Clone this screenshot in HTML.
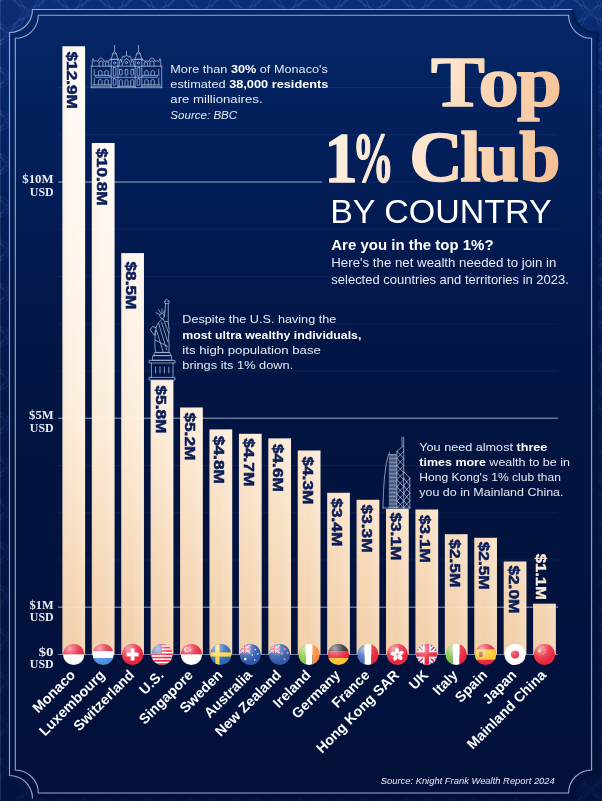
<!DOCTYPE html>
<html lang="en"><head><meta charset="utf-8"><title>Top 1% Club by Country</title>
<style>
html,body{margin:0;padding:0;background:#031648;}
body{width:602px;height:801px;overflow:hidden;}
svg{display:block;}
text{font-family:"Liberation Sans",sans-serif;fill:#fff;}
.ax{font-family:"Liberation Serif",serif;font-weight:bold;font-size:11.9px;fill:#e9ecf5;}
.vl{font-weight:bold;font-size:15.4px;}
.vd{fill:#0a1d58;stroke:#0a1d58;stroke-width:0.55px;}
.vw{fill:#fdebd8;stroke:#fdebd8;stroke-width:0.4px;}
.cl{font-weight:bold;font-size:14.2px;fill:#fff;}
.tt{font-family:"Liberation Serif",serif;font-weight:bold;font-size:72px;fill:url(#title);stroke:url(#title);stroke-width:1.6px;stroke-linejoin:round;}
.t2{fill:url(#title2);stroke:url(#title2);}
.t3{fill:url(#title3);stroke:url(#title3);}
.by{font-size:33.5px;fill:#fff;}
.sb{font-weight:bold;font-size:14px;}
.bd{font-size:12px;fill:#e6eaf5;}
.nt{font-size:11.4px;fill:#e6eaf5;}
.b{font-weight:bold;fill:#fff;}
.it{font-style:italic;}
.src{font-style:italic;font-size:9.8px;fill:#e6eaf5;}
</style></head><body>
<svg width="602" height="801" viewBox="0 0 602 801">
<defs>
<linearGradient id="bg" x1="0" y1="0" x2="0" y2="1">
<stop offset="0" stop-color="#052667"/><stop offset="0.05" stop-color="#042463"/><stop offset="0.115" stop-color="#03215e"/><stop offset="0.24" stop-color="#021c55"/><stop offset="0.39" stop-color="#021748"/><stop offset="0.56" stop-color="#021440"/><stop offset="0.89" stop-color="#02113c"/><stop offset="1" stop-color="#021039"/>
</linearGradient>
<linearGradient id="band" x1="0" y1="0" x2="0" y2="1">
<stop offset="0" stop-color="#0c2e76"/><stop offset="0.09" stop-color="#05266c"/><stop offset="0.25" stop-color="#041e5a"/><stop offset="0.51" stop-color="#031648"/><stop offset="1" stop-color="#04123f"/>
</linearGradient>
<linearGradient id="bar" gradientUnits="userSpaceOnUse" x1="0" y1="46" x2="0" y2="655">
<stop offset="0" stop-color="#fffbf5"/><stop offset="0.3" stop-color="#fef7ee"/><stop offset="0.5" stop-color="#fdf1e3"/><stop offset="0.63" stop-color="#fcebd7"/><stop offset="0.78" stop-color="#f8dfc3"/><stop offset="0.9" stop-color="#f4d5b3"/><stop offset="1" stop-color="#f1cea7"/>
</linearGradient>
<linearGradient id="barh" x1="0" y1="0" x2="1" y2="0">
<stop offset="0" stop-color="#f3c79c" stop-opacity="0.14"/><stop offset="0.45" stop-color="#fff" stop-opacity="0"/><stop offset="1" stop-color="#fff" stop-opacity="0.22"/>
</linearGradient>
<linearGradient id="title" gradientUnits="userSpaceOnUse" x1="330" y1="90" x2="560" y2="130"><stop offset="0" stop-color="#fdeede"/><stop offset="0.45" stop-color="#fce5cf"/><stop offset="0.65" stop-color="#fad7b4"/><stop offset="0.82" stop-color="#f9cfa9"/><stop offset="1" stop-color="#f5c096"/></linearGradient>
<linearGradient id="title2" gradientUnits="userSpaceOnUse" x1="294.6" y1="90" x2="500.0" y2="130"><stop offset="0" stop-color="#fdeede"/><stop offset="0.45" stop-color="#fce5cf"/><stop offset="0.65" stop-color="#fad7b4"/><stop offset="0.82" stop-color="#f9cfa9"/><stop offset="1" stop-color="#f5c096"/></linearGradient>
<linearGradient id="title3" gradientUnits="userSpaceOnUse" x1="320.4" y1="90" x2="543.7" y2="130"><stop offset="0" stop-color="#fdeede"/><stop offset="0.45" stop-color="#fce5cf"/><stop offset="0.65" stop-color="#fad7b4"/><stop offset="0.82" stop-color="#f9cfa9"/><stop offset="1" stop-color="#f5c096"/></linearGradient>
<radialGradient id="gloss" cx="0.32" cy="0.22" r="0.85">
<stop offset="0" stop-color="#fff" stop-opacity="0.6"/><stop offset="0.45" stop-color="#fff" stop-opacity="0.16"/><stop offset="0.8" stop-color="#fff" stop-opacity="0"/><stop offset="1" stop-color="#000" stop-opacity="0.12"/>
</radialGradient>
<pattern id="pat" width="36" height="36" patternUnits="userSpaceOnUse" patternTransform="translate(-14,-9) scale(1.2)">
<g fill="none" stroke="#86a4f0" stroke-opacity="0.3" stroke-width="0.6">
<path d="M18 1 C21 6 26 5 28.5 7.5 C31 10 30 15 35 18 C30 21 31 26 28.5 28.5 C26 31 21 30 18 35 C15 30 10 31 7.5 28.5 C5 26 6 21 1 18 C6 15 5 10 7.5 7.5 C10 5 15 6 18 1 Z"/>
<path d="M18 1 C21 6 26 5 28.5 7.5 C31 10 30 15 35 18 C30 21 31 26 28.5 28.5 C26 31 21 30 18 35 C15 30 10 31 7.5 28.5 C5 26 6 21 1 18 C6 15 5 10 7.5 7.5 C10 5 15 6 18 1 Z" transform="translate(18,18) scale(0.8) translate(-18,-18)"/>
<path d="M18 1 C21 6 26 5 28.5 7.5 C31 10 30 15 35 18 C30 21 31 26 28.5 28.5 C26 31 21 30 18 35 C15 30 10 31 7.5 28.5 C5 26 6 21 1 18 C6 15 5 10 7.5 7.5 C10 5 15 6 18 1 Z" transform="translate(-18,-18)"/><path d="M18 1 C21 6 26 5 28.5 7.5 C31 10 30 15 35 18 C30 21 31 26 28.5 28.5 C26 31 21 30 18 35 C15 30 10 31 7.5 28.5 C5 26 6 21 1 18 C6 15 5 10 7.5 7.5 C10 5 15 6 18 1 Z" transform="translate(18,-18)"/><path d="M18 1 C21 6 26 5 28.5 7.5 C31 10 30 15 35 18 C30 21 31 26 28.5 28.5 C26 31 21 30 18 35 C15 30 10 31 7.5 28.5 C5 26 6 21 1 18 C6 15 5 10 7.5 7.5 C10 5 15 6 18 1 Z" transform="translate(-18,18)"/><path d="M18 1 C21 6 26 5 28.5 7.5 C31 10 30 15 35 18 C30 21 31 26 28.5 28.5 C26 31 21 30 18 35 C15 30 10 31 7.5 28.5 C5 26 6 21 1 18 C6 15 5 10 7.5 7.5 C10 5 15 6 18 1 Z" transform="translate(18,18)"/>
</g>
</pattern>
<linearGradient id="pfade" x1="0" y1="0" x2="0" y2="1"><stop offset="0" stop-color="#fff"/><stop offset="0.5" stop-color="#999"/><stop offset="1" stop-color="#555"/></linearGradient>
<mask id="pmask"><rect width="602" height="801" fill="url(#pfade)"/></mask>
<clipPath id="cflag"><circle cx="0" cy="0" r="10.6"/></clipPath>
</defs>
<rect width="602" height="801" fill="url(#band)"/>
<rect width="602" height="801" fill="url(#pat)" mask="url(#pmask)"/>
<rect x="0" y="0" width="1" height="801" fill="#fff" fill-opacity="0.1"/>
<path d="M32.5 9.5 H574.5 A23 23 0 0 0 597.5 32.5 V775.5 A23 23 0 0 0 574.5 798.5 H32.5 A23 23 0 0 0 9.5 775.5 V32.5 A23 23 0 0 0 32.5 9.5 Z" fill="url(#bg)"/>
<path d="M572.5 9.5 H32.5 A23 23 0 0 1 9.5 32.5 V775.5 A23 23 0 0 1 32.5 798.5" fill="none" stroke="#98a6cb" stroke-width="1.1"/>
<path d="M572.5 9.5 A23 23 0 0 0 597.5 32.5 V775.5" fill="none" stroke="#06102e" stroke-opacity="0.55" stroke-width="2.2"/>
<path d="M38.3 15.3 H568.6 A23 23 0 0 0 591.6 38.3 V770 A23 23 0 0 0 568.6 793 H38.3 A23 23 0 0 0 15.3 770 V38.3 A23 23 0 0 0 38.3 15.3 Z" fill="none" stroke="#9caacf" stroke-width="1.1"/>
<line x1="58" x2="558" y1="560.0" y2="560.0" stroke="#8fa3d6" stroke-opacity="0.1" stroke-width="0.9"/>
<line x1="58" x2="558" y1="512.8" y2="512.8" stroke="#8fa3d6" stroke-opacity="0.1" stroke-width="0.9"/>
<line x1="58" x2="558" y1="465.5" y2="465.5" stroke="#8fa3d6" stroke-opacity="0.1" stroke-width="0.9"/>
<line x1="58" x2="558" y1="371.0" y2="371.0" stroke="#8fa3d6" stroke-opacity="0.1" stroke-width="0.9"/>
<line x1="58" x2="558" y1="323.8" y2="323.8" stroke="#8fa3d6" stroke-opacity="0.1" stroke-width="0.9"/>
<line x1="58" x2="558" y1="276.5" y2="276.5" stroke="#8fa3d6" stroke-opacity="0.1" stroke-width="0.9"/>
<line x1="58" x2="558" y1="229.2" y2="229.2" stroke="#8fa3d6" stroke-opacity="0.1" stroke-width="0.9"/>
<line x1="58" x2="558" y1="134.8" y2="134.8" stroke="#8fa3d6" stroke-opacity="0.1" stroke-width="0.9"/>
<line x1="58" x2="558" y1="87.5" y2="87.5" stroke="#8fa3d6" stroke-opacity="0.1" stroke-width="0.9"/>
<line x1="58" x2="558" y1="654.5" y2="654.5" stroke="#b0c4ea" stroke-opacity="0.58" stroke-width="1"/>
<line x1="58" x2="558" y1="607.2" y2="607.2" stroke="#b0c4ea" stroke-opacity="0.58" stroke-width="1"/>
<line x1="58" x2="558" y1="418.2" y2="418.2" stroke="#b0c4ea" stroke-opacity="0.58" stroke-width="1"/>
<line x1="322" x2="558" y1="182.0" y2="182.0" stroke="#8fa3d6" stroke-opacity="0.1" stroke-width="0.9"/>
<line x1="58" x2="322" y1="182.0" y2="182.0" stroke="#b0c4ea" stroke-opacity="0.58" stroke-width="1"/>
<rect x="62.40" y="46.3" width="22.7" height="608.2" fill="url(#bar)"/>
<rect x="62.40" y="46.3" width="22.7" height="608.2" fill="url(#barh)"/>
<rect x="91.82" y="143.0" width="22.7" height="511.5" fill="url(#bar)"/>
<rect x="91.82" y="143.0" width="22.7" height="511.5" fill="url(#barh)"/>
<rect x="121.24" y="253.1" width="22.7" height="401.4" fill="url(#bar)"/>
<rect x="121.24" y="253.1" width="22.7" height="401.4" fill="url(#barh)"/>
<rect x="150.66" y="380.0" width="22.7" height="274.5" fill="url(#bar)"/>
<rect x="150.66" y="380.0" width="22.7" height="274.5" fill="url(#barh)"/>
<rect x="180.08" y="407.5" width="22.7" height="247.0" fill="url(#bar)"/>
<rect x="180.08" y="407.5" width="22.7" height="247.0" fill="url(#barh)"/>
<rect x="209.50" y="429.4" width="22.7" height="225.1" fill="url(#bar)"/>
<rect x="209.50" y="429.4" width="22.7" height="225.1" fill="url(#barh)"/>
<rect x="238.92" y="433.8" width="22.7" height="220.7" fill="url(#bar)"/>
<rect x="238.92" y="433.8" width="22.7" height="220.7" fill="url(#barh)"/>
<rect x="268.34" y="438.4" width="22.7" height="216.1" fill="url(#bar)"/>
<rect x="268.34" y="438.4" width="22.7" height="216.1" fill="url(#barh)"/>
<rect x="297.76" y="450.5" width="22.7" height="204.0" fill="url(#bar)"/>
<rect x="297.76" y="450.5" width="22.7" height="204.0" fill="url(#barh)"/>
<rect x="327.18" y="492.8" width="22.7" height="161.7" fill="url(#bar)"/>
<rect x="327.18" y="492.8" width="22.7" height="161.7" fill="url(#barh)"/>
<rect x="356.60" y="499.8" width="22.7" height="154.7" fill="url(#bar)"/>
<rect x="356.60" y="499.8" width="22.7" height="154.7" fill="url(#barh)"/>
<rect x="386.02" y="508.9" width="22.7" height="145.6" fill="url(#bar)"/>
<rect x="386.02" y="508.9" width="22.7" height="145.6" fill="url(#barh)"/>
<rect x="415.44" y="509.5" width="22.7" height="145.0" fill="url(#bar)"/>
<rect x="415.44" y="509.5" width="22.7" height="145.0" fill="url(#barh)"/>
<rect x="444.86" y="534.2" width="22.7" height="120.3" fill="url(#bar)"/>
<rect x="444.86" y="534.2" width="22.7" height="120.3" fill="url(#barh)"/>
<rect x="474.28" y="537.8" width="22.7" height="116.7" fill="url(#bar)"/>
<rect x="474.28" y="537.8" width="22.7" height="116.7" fill="url(#barh)"/>
<rect x="503.70" y="561.5" width="22.7" height="93.0" fill="url(#bar)"/>
<rect x="503.70" y="561.5" width="22.7" height="93.0" fill="url(#barh)"/>
<rect x="533.12" y="603.7" width="22.7" height="50.8" fill="url(#bar)"/>
<rect x="533.12" y="603.7" width="22.7" height="50.8" fill="url(#barh)"/>
<line x1="58" x2="558" y1="607.2" y2="607.2" stroke="#ffffff" stroke-opacity="0.3" stroke-width="0.9"/>
<line x1="58" x2="558" y1="418.2" y2="418.2" stroke="#ffffff" stroke-opacity="0.3" stroke-width="0.9"/>
<line x1="58" x2="322" y1="182.0" y2="182.0" stroke="#ffffff" stroke-opacity="0.3" stroke-width="0.9"/>
<text x="53.6" y="183.2" text-anchor="end" class="ax" textLength="31.3" lengthAdjust="spacingAndGlyphs">$10M</text>
<text x="53.6" y="195.5" text-anchor="end" class="ax" textLength="23.8" lengthAdjust="spacingAndGlyphs">USD</text>
<text x="53.6" y="419.4" text-anchor="end" class="ax" textLength="24.5" lengthAdjust="spacingAndGlyphs">$5M</text>
<text x="53.6" y="431.8" text-anchor="end" class="ax" textLength="23.8" lengthAdjust="spacingAndGlyphs">USD</text>
<text x="53.6" y="608.5" text-anchor="end" class="ax" textLength="24" lengthAdjust="spacingAndGlyphs">$1M</text>
<text x="53.6" y="620.8" text-anchor="end" class="ax" textLength="23.8" lengthAdjust="spacingAndGlyphs">USD</text>
<text x="53.6" y="655.7" text-anchor="end" class="ax" textLength="15" lengthAdjust="spacingAndGlyphs">$0</text>
<text x="53.6" y="668.0" text-anchor="end" class="ax" textLength="23.8" lengthAdjust="spacingAndGlyphs">USD</text>
<text transform="translate(67.3,51.5) rotate(90)" class="vl vd" textLength="57.4" lengthAdjust="spacingAndGlyphs">$12.9M</text>
<text transform="translate(96.7,148.3) rotate(90)" class="vl vd" textLength="57.4" lengthAdjust="spacingAndGlyphs">$10.8M</text>
<text transform="translate(126.1,261.5) rotate(90)" class="vl vd" textLength="48.0" lengthAdjust="spacingAndGlyphs">$8.5M</text>
<text transform="translate(155.6,385.5) rotate(90)" class="vl vd" textLength="48.0" lengthAdjust="spacingAndGlyphs">$5.8M</text>
<text transform="translate(185.0,412.4) rotate(90)" class="vl vd" textLength="48.0" lengthAdjust="spacingAndGlyphs">$5.2M</text>
<text transform="translate(214.4,435.9) rotate(90)" class="vl vd" textLength="48.0" lengthAdjust="spacingAndGlyphs">$4.8M</text>
<text transform="translate(243.8,438.3) rotate(90)" class="vl vd" textLength="48.0" lengthAdjust="spacingAndGlyphs">$4.7M</text>
<text transform="translate(273.2,443.9) rotate(90)" class="vl vd" textLength="48.0" lengthAdjust="spacingAndGlyphs">$4.6M</text>
<text transform="translate(302.7,456.4) rotate(90)" class="vl vd" textLength="48.0" lengthAdjust="spacingAndGlyphs">$4.3M</text>
<text transform="translate(332.1,498.3) rotate(90)" class="vl vd" textLength="48.0" lengthAdjust="spacingAndGlyphs">$3.4M</text>
<text transform="translate(361.5,504.6) rotate(90)" class="vl vd" textLength="48.0" lengthAdjust="spacingAndGlyphs">$3.3M</text>
<text transform="translate(390.9,512.4) rotate(90)" class="vl vd" textLength="48.0" lengthAdjust="spacingAndGlyphs">$3.1M</text>
<text transform="translate(420.3,515.0) rotate(90)" class="vl vd" textLength="48.0" lengthAdjust="spacingAndGlyphs">$3.1M</text>
<text transform="translate(449.8,539.3) rotate(90)" class="vl vd" textLength="48.0" lengthAdjust="spacingAndGlyphs">$2.5M</text>
<text transform="translate(479.2,541.7) rotate(90)" class="vl vd" textLength="48.0" lengthAdjust="spacingAndGlyphs">$2.5M</text>
<text transform="translate(508.6,565.4) rotate(90)" class="vl vd" textLength="48.0" lengthAdjust="spacingAndGlyphs">$2.0M</text>
<text transform="translate(536.3,553.7) rotate(90)" class="vl vw" textLength="46.2" lengthAdjust="spacingAndGlyphs">$1.1M</text>
<g transform="translate(73.75,654.5)"><g clip-path="url(#cflag)"><rect x="-11" y="-11" width="22" height="11" fill="#e8243c"/><rect x="-11" y="0" width="22" height="11" fill="#fff"/></g><circle r="10.6" fill="url(#gloss)"/></g>
<g transform="translate(103.17,654.5)"><g clip-path="url(#cflag)"><rect x="-11" y="-11" width="22" height="7.6" fill="#e8243c"/><rect x="-11" y="-3.4" width="22" height="7" fill="#fff"/><rect x="-11" y="3.4" width="22" height="8" fill="#4a8fe0"/></g><circle r="10.6" fill="url(#gloss)"/></g>
<g transform="translate(132.59,654.5)"><g clip-path="url(#cflag)"><rect x="-11" y="-11" width="22" height="22" fill="#e8243c"/><rect x="-1.9" y="-6" width="3.8" height="12" fill="#fff"/><rect x="-6" y="-1.9" width="12" height="3.8" fill="#fff"/></g><circle r="10.6" fill="url(#gloss)"/></g>
<g transform="translate(162.01,654.5)"><g clip-path="url(#cflag)"><rect x="-11" y="-11" width="22" height="22" fill="#fff"/><rect x="-11" y="-11.00" width="22" height="1.7" fill="#e8243c"/><rect x="-11" y="-7.70" width="22" height="1.7" fill="#e8243c"/><rect x="-11" y="-4.40" width="22" height="1.7" fill="#e8243c"/><rect x="-11" y="-1.10" width="22" height="1.7" fill="#e8243c"/><rect x="-11" y="2.20" width="22" height="1.7" fill="#e8243c"/><rect x="-11" y="5.50" width="22" height="1.7" fill="#e8243c"/><rect x="-11" y="8.80" width="22" height="1.7" fill="#e8243c"/><rect x="-11" y="-11" width="11" height="10" fill="#5878bc"/></g><circle r="10.6" fill="url(#gloss)"/></g>
<g transform="translate(191.43,654.5)"><g clip-path="url(#cflag)"><rect x="-11" y="-11" width="22" height="11" fill="#e8243c"/><rect x="-11" y="0" width="22" height="11" fill="#fff"/><circle cx="-4.5" cy="-5" r="2.6" fill="#fff"/><circle cx="-3.4" cy="-5" r="2.3" fill="#e8243c"/><g fill="#fff"><circle cx="-1.5" cy="-6.6" r=".5"/><circle cx="-0.2" cy="-5.2" r=".5"/><circle cx="-2.6" cy="-5.2" r=".5"/><circle cx="-0.8" cy="-3.7" r=".5"/><circle cx="-2.2" cy="-3.7" r=".5"/></g></g><circle r="10.6" fill="url(#gloss)"/></g>
<g transform="translate(220.85,654.5)"><g clip-path="url(#cflag)"><rect x="-11" y="-11" width="22" height="22" fill="#2c66b4"/><rect x="-5.5" y="-11" width="4.2" height="22" fill="#ffd23f"/><rect x="-11" y="-2.1" width="22" height="4.2" fill="#ffd23f"/></g><circle r="10.6" fill="url(#gloss)"/></g>
<g transform="translate(250.27,654.5)"><g clip-path="url(#cflag)"><rect x="-11" y="-11" width="22" height="22" fill="#2b55a8"/><g transform="translate(-11,-9.5)"><rect width="11" height="8" fill="#2b4a9b"/><path d="M0 0 L11 8 M11 0 L0 8" stroke="#fff" stroke-width="1.76"/><path d="M0 0 L11 8 M11 0 L0 8" stroke="#e8243c" stroke-width="0.64"/><path d="M5.5 0 V8 M0 4.0 H11" stroke="#fff" stroke-width="2.72"/><path d="M5.5 0 V8 M0 4.0 H11" stroke="#e8243c" stroke-width="1.60"/></g><g fill="#fff"><circle cx="-5" cy="4.5" r="1.3"/><circle cx="5" cy="-5" r=".8"/><circle cx="7.5" cy="-0.5" r=".8"/><circle cx="4.5" cy="5.5" r=".8"/><circle cx="2" cy="0.5" r=".8"/></g></g><circle r="10.6" fill="url(#gloss)"/></g>
<g transform="translate(279.69,654.5)"><g clip-path="url(#cflag)"><rect x="-11" y="-11" width="22" height="22" fill="#2b55a8"/><g transform="translate(-11,-9.5)"><rect width="11" height="8" fill="#2b4a9b"/><path d="M0 0 L11 8 M11 0 L0 8" stroke="#fff" stroke-width="1.76"/><path d="M0 0 L11 8 M11 0 L0 8" stroke="#e8243c" stroke-width="0.64"/><path d="M5.5 0 V8 M0 4.0 H11" stroke="#fff" stroke-width="2.72"/><path d="M5.5 0 V8 M0 4.0 H11" stroke="#e8243c" stroke-width="1.60"/></g><g fill="#e8243c" stroke="#fff" stroke-width=".4"><circle cx="5" cy="-5.5" r=".9"/><circle cx="7.8" cy="-1.5" r=".9"/><circle cx="5" cy="4.8" r=".9"/><circle cx="2.3" cy="-1" r=".9"/></g></g><circle r="10.6" fill="url(#gloss)"/></g>
<g transform="translate(309.11,654.5)"><g clip-path="url(#cflag)"><rect x="-11" y="-11" width="7.6" height="22" fill="#8cc63f"/><rect x="-3.4" y="-11" width="6.8" height="22" fill="#fff"/><rect x="3.4" y="-11" width="8" height="22" fill="#ff8c3a"/></g><circle r="10.6" fill="url(#gloss)"/></g>
<g transform="translate(338.53,654.5)"><g clip-path="url(#cflag)"><rect x="-11" y="-11" width="22" height="7.6" fill="#2b2b33"/><rect x="-11" y="-3.4" width="22" height="6.8" fill="#e8243c"/><rect x="-11" y="3.4" width="22" height="8" fill="#ffc531"/></g><circle r="10.6" fill="url(#gloss)"/></g>
<g transform="translate(367.95,654.5)"><g clip-path="url(#cflag)"><rect x="-11" y="-11" width="7.6" height="22" fill="#3f66c2"/><rect x="-3.4" y="-11" width="6.8" height="22" fill="#fff"/><rect x="3.4" y="-11" width="8" height="22" fill="#e8243c"/></g><circle r="10.6" fill="url(#gloss)"/></g>
<g transform="translate(397.37,654.5)"><g clip-path="url(#cflag)"><rect x="-11" y="-11" width="22" height="22" fill="#e8243c"/><g fill="#fff"><path transform="rotate(0)" d="M0 -0.6 C-3.2 -2 -3.4 -5.6 -0.6 -7 C1.6 -6.4 2.8 -3.2 0 -0.6Z"/><path transform="rotate(72)" d="M0 -0.6 C-3.2 -2 -3.4 -5.6 -0.6 -7 C1.6 -6.4 2.8 -3.2 0 -0.6Z"/><path transform="rotate(144)" d="M0 -0.6 C-3.2 -2 -3.4 -5.6 -0.6 -7 C1.6 -6.4 2.8 -3.2 0 -0.6Z"/><path transform="rotate(216)" d="M0 -0.6 C-3.2 -2 -3.4 -5.6 -0.6 -7 C1.6 -6.4 2.8 -3.2 0 -0.6Z"/><path transform="rotate(288)" d="M0 -0.6 C-3.2 -2 -3.4 -5.6 -0.6 -7 C1.6 -6.4 2.8 -3.2 0 -0.6Z"/></g></g><circle r="10.6" fill="url(#gloss)"/></g>
<g transform="translate(426.79,654.5)"><g clip-path="url(#cflag)"><g><g transform="translate(-11,-11)"><rect width="22" height="22" fill="#2b4a9b"/><path d="M0 0 L22 22 M22 0 L0 22" stroke="#fff" stroke-width="4.84"/><path d="M0 0 L22 22 M22 0 L0 22" stroke="#e8243c" stroke-width="1.76"/><path d="M11.0 0 V22 M0 11.0 H22" stroke="#fff" stroke-width="7.48"/><path d="M11.0 0 V22 M0 11.0 H22" stroke="#e8243c" stroke-width="4.40"/></g></g></g><circle r="10.6" fill="url(#gloss)"/></g>
<g transform="translate(456.21,654.5)"><g clip-path="url(#cflag)"><rect x="-11" y="-11" width="7.6" height="22" fill="#7ac143"/><rect x="-3.4" y="-11" width="6.8" height="22" fill="#fff"/><rect x="3.4" y="-11" width="8" height="22" fill="#e8243c"/></g><circle r="10.6" fill="url(#gloss)"/></g>
<g transform="translate(485.63,654.5)"><g clip-path="url(#cflag)"><rect x="-11" y="-11" width="22" height="22" fill="#e8243c"/><rect x="-11" y="-5.2" width="22" height="10.4" fill="#ffc531"/><rect x="-6.5" y="-3" width="3.6" height="5.6" rx="1" fill="#a5603a"/></g><circle r="10.6" fill="url(#gloss)"/></g>
<g transform="translate(515.05,654.5)"><g clip-path="url(#cflag)"><rect x="-11" y="-11" width="22" height="22" fill="#fff"/><circle r="4.1" fill="#e8243c"/></g><circle r="10.6" fill="url(#gloss)"/></g>
<g transform="translate(544.47,654.5)"><g clip-path="url(#cflag)"><rect x="-11" y="-11" width="22" height="22" fill="#e8243c"/><g fill="#ffd23f"><polygon points="-5.00,-6.10 -4.39,-4.34 -2.53,-4.30 -4.01,-3.18 -3.47,-1.40 -5.00,-2.46 -6.53,-1.40 -5.99,-3.18 -7.47,-4.30 -5.61,-4.34"/><polygon points="-1.20,-7.90 -0.99,-7.29 -0.34,-7.28 -0.86,-6.89 -0.67,-6.27 -1.20,-6.64 -1.73,-6.27 -1.54,-6.89 -2.06,-7.28 -1.41,-7.29"/><polygon points="0.60,-5.90 0.81,-5.29 1.46,-5.28 0.94,-4.89 1.13,-4.27 0.60,-4.64 0.07,-4.27 0.26,-4.89 -0.26,-5.28 0.39,-5.29"/><polygon points="0.60,-3.30 0.81,-2.69 1.46,-2.68 0.94,-2.29 1.13,-1.67 0.60,-2.04 0.07,-1.67 0.26,-2.29 -0.26,-2.68 0.39,-2.69"/><polygon points="-1.20,-1.30 -0.99,-0.69 -0.34,-0.68 -0.86,-0.29 -0.67,0.33 -1.20,-0.04 -1.73,0.33 -1.54,-0.29 -2.06,-0.68 -1.41,-0.69"/></g></g><circle r="10.6" fill="url(#gloss)"/></g>
<text transform="translate(76.2,675.9) rotate(-45)" text-anchor="end" class="cl">Monaco</text>
<text transform="translate(105.7,675.9) rotate(-45)" text-anchor="end" class="cl">Luxembourg</text>
<text transform="translate(135.1,675.9) rotate(-45)" text-anchor="end" class="cl">Switzerland</text>
<text transform="translate(164.5,675.9) rotate(-45)" text-anchor="end" class="cl">U.S.</text>
<text transform="translate(193.9,675.9) rotate(-45)" text-anchor="end" class="cl">Singapore</text>
<text transform="translate(223.4,675.9) rotate(-45)" text-anchor="end" class="cl">Sweden</text>
<text transform="translate(252.8,675.9) rotate(-45)" text-anchor="end" class="cl">Australia</text>
<text transform="translate(282.2,675.9) rotate(-45)" text-anchor="end" class="cl">New Zealand</text>
<text transform="translate(311.6,675.9) rotate(-45)" text-anchor="end" class="cl">Ireland</text>
<text transform="translate(341.0,675.9) rotate(-45)" text-anchor="end" class="cl">Germany</text>
<text transform="translate(370.5,675.9) rotate(-45)" text-anchor="end" class="cl">France</text>
<text transform="translate(399.9,675.9) rotate(-45)" text-anchor="end" class="cl">Hong Kong SAR</text>
<text transform="translate(429.3,675.9) rotate(-45)" text-anchor="end" class="cl">UK</text>
<text transform="translate(458.7,675.9) rotate(-45)" text-anchor="end" class="cl">Italy</text>
<text transform="translate(488.1,675.9) rotate(-45)" text-anchor="end" class="cl">Spain</text>
<text transform="translate(517.5,675.9) rotate(-45)" text-anchor="end" class="cl">Japan</text>
<text transform="translate(547.0,675.9) rotate(-45)" text-anchor="end" class="cl">Mainland China</text>
<g fill="none" stroke="#bcc7e3" stroke-width="0.7" stroke-linecap="round" stroke-linejoin="round"><g>
<path d="M91.3 87.6 V66.6 M91 66.2 H111.2"/>
<path d="M92.2 66 V60.5 L93 58.6 L93.8 60.5 M93.8 61.5 Q96 59.6 98 61.6 L98.6 59.6 L101 57.8 L103.4 59.6 L104 61.6 Q106.5 59.8 108.6 61.6 L109.2 60 L110.2 59.2 L111.2 60"/>
<path d="M99 66 V62 Q101 59.8 103 62 V66 M105.6 66 V62.6 Q107.2 61 108.8 62.6 V66"/>
<path d="M98.6 75.2 V71.4 Q100.3 69.4 102 71.4 V75.2 M104.8 75.2 V71.4 Q106.5 69.4 108.2 71.4 V75.2"/>
<path d="M95.5 75.4 H110.6 L109.8 77.3 H96.3 Z"/>
<path d="M98.6 84.6 V80.2 Q100.3 78.2 102 80.2 V84.6 M104.8 84.6 V80.2 Q106.5 78.2 108.2 80.2 V84.6 M93.2 84.8 H111 M92 86.2 H111"/>
<path d="M94.2 75.4 V69.5 M94.2 84.6 V78"/>
<path d="M111.2 87.6 V59.3 H117.9 V87.6"/>
<path d="M110.4 59.3 H118.7 M110.8 59.3 Q112.2 57.4 112.8 53.6 L114.55 51.6 L116.3 53.6 Q116.9 57.4 118.3 59.3 M112.8 53.8 H116.3 M114.55 51.6 V45.4"/>
<circle cx="114.55" cy="62.9" r="1.15"/>
<rect x="113.2" y="67.6" width="2.7" height="8.4" rx="0.6"/>
<rect x="113.2" y="78.8" width="2.7" height="6.4" rx="0.6"/>
<path d="M111.2 66.2 H117.9 M111.2 77.3 H117.9"/>
<path d="M117.9 66.2 H126.5 M117.9 77.3 H126.5 M117.9 86.3 H126.5"/>
<rect x="119.5" y="69.4" width="2.6" height="5.6" rx="0.5"/>
<path d="M119.3 86.2 V80.4 Q120.8 78.6 122.3 80.4 V86.2"/>
<path d="M119 66 L119.6 61.2 L120.4 59 L121.2 61.2 M121.2 62.4 L122.4 57.2 L123.2 55.8 L124 57.2 L126.5 55.4"/>
<path d="M122 66 Q122.6 62 124.2 60.2 L126.5 58.8"/>
</g><g transform="translate(253,0) scale(-1,1)">
<path d="M91.3 87.6 V66.6 M91 66.2 H111.2"/>
<path d="M92.2 66 V60.5 L93 58.6 L93.8 60.5 M93.8 61.5 Q96 59.6 98 61.6 L98.6 59.6 L101 57.8 L103.4 59.6 L104 61.6 Q106.5 59.8 108.6 61.6 L109.2 60 L110.2 59.2 L111.2 60"/>
<path d="M99 66 V62 Q101 59.8 103 62 V66 M105.6 66 V62.6 Q107.2 61 108.8 62.6 V66"/>
<path d="M98.6 75.2 V71.4 Q100.3 69.4 102 71.4 V75.2 M104.8 75.2 V71.4 Q106.5 69.4 108.2 71.4 V75.2"/>
<path d="M95.5 75.4 H110.6 L109.8 77.3 H96.3 Z"/>
<path d="M98.6 84.6 V80.2 Q100.3 78.2 102 80.2 V84.6 M104.8 84.6 V80.2 Q106.5 78.2 108.2 80.2 V84.6 M93.2 84.8 H111 M92 86.2 H111"/>
<path d="M94.2 75.4 V69.5 M94.2 84.6 V78"/>
<path d="M111.2 87.6 V59.3 H117.9 V87.6"/>
<path d="M110.4 59.3 H118.7 M110.8 59.3 Q112.2 57.4 112.8 53.6 L114.55 51.6 L116.3 53.6 Q116.9 57.4 118.3 59.3 M112.8 53.8 H116.3 M114.55 51.6 V45.4"/>
<circle cx="114.55" cy="62.9" r="1.15"/>
<rect x="113.2" y="67.6" width="2.7" height="8.4" rx="0.6"/>
<rect x="113.2" y="78.8" width="2.7" height="6.4" rx="0.6"/>
<path d="M111.2 66.2 H117.9 M111.2 77.3 H117.9"/>
<path d="M117.9 66.2 H126.5 M117.9 77.3 H126.5 M117.9 86.3 H126.5"/>
<rect x="119.5" y="69.4" width="2.6" height="5.6" rx="0.5"/>
<path d="M119.3 86.2 V80.4 Q120.8 78.6 122.3 80.4 V86.2"/>
<path d="M119 66 L119.6 61.2 L120.4 59 L121.2 61.2 M121.2 62.4 L122.4 57.2 L123.2 55.8 L124 57.2 L126.5 55.4"/>
<path d="M122 66 Q122.6 62 124.2 60.2 L126.5 58.8"/>
</g>
<rect x="125.2" y="69.4" width="2.6" height="5.6" rx="0.5"/>
<path d="M125 86.2 V80.4 Q126.5 78.6 128 80.4 V86.2"/>
<path d="M126.5 55.4 V51.3"/>
<circle cx="126.5" cy="62.6" r="1.1"/>
<path d="M91 87.7 H162"/>
</g>
<g fill="none" stroke="#bcc7e3" stroke-width="0.7" stroke-linecap="round" stroke-linejoin="round">
<path d="M166.9 299.2 L168.2 300.6 L167.6 301.2 H169.3 L168.8 303.6 H165 L164.5 301.2 H166.2 L165.6 300.6 Z"/>
<path d="M165.6 303.8 L164.4 316.4 M168.3 303.8 L168.2 321.6"/>
<path d="M160.2 314.2 Q162.4 312.4 164 314.8 Q164.6 317.4 162.8 318.8 Q160.4 318.8 159.8 316.6 Z"/>
<path d="M159.6 314.4 L156 312.6 M160.6 313 L158.6 309.6 M162 312.6 L162 309 M163.4 313.2 L165 310.4"/>
<path d="M162.6 319 L159.4 321.6 Q156.6 324.6 155.6 329.6 L154.8 343 Q154.8 348.6 155.8 352.4 H168.9 Q169.4 345 168.6 338 Q169.8 330 168.2 321.6 L164.8 321.4 Z"/>
<path d="M158.6 323.6 L166.8 350 M161.6 322.6 L168 342 M156.4 330 L163.2 352 M164.6 322.4 L168.6 333 M155.2 340 L167.6 346.4"/>
<path d="M155.8 327.6 L152.6 326.4 L150.2 329.8 L154.4 335.6 L155.4 331"/>
<path d="M154.8 352.6 H170 L170.6 355.6 H154.2 Z M153.2 355.6 H171.4 L171.8 360.2 H152.8 Z"/>
<rect x="149.4" y="360.4" width="25.6" height="2.6"/>
<path d="M151.4 363 V377.4 M173 363 V377.4"/>
<path d="M155.6 367 V373 M160 367 V373 M164.4 367 V373 M168.8 367 V373"/>
<rect x="149.4" y="377.4" width="25.6" height="2.6"/>
</g>
<g fill="none" stroke="#bcc7e3" stroke-width="0.7" stroke-linecap="round" stroke-linejoin="round"><path d="M382.9 508 Q383.6 470 388.4 454.6 L389.6 452.4 M382.9 508 H410"/><path d="M389.2 454.40 H396.4"/><path d="M389.2 455.76 H396.4"/><path d="M389.2 457.12 H396.4"/><path d="M389.2 458.48 H396.4"/><path d="M389.2 459.84 H396.4"/><path d="M389.2 461.20 H396.4"/><path d="M389.2 462.56 H396.4"/><path d="M389.2 463.92 H396.4"/><path d="M389.2 465.28 H396.4"/><path d="M389.2 466.64 H396.4"/><path d="M389.2 468.00 H396.4"/><path d="M389.2 469.36 H396.4"/><path d="M389.2 470.72 H396.4"/><path d="M389.2 472.08 H396.4"/><path d="M389.2 473.44 H396.4"/><path d="M389.2 474.80 H396.4"/><path d="M389.2 476.16 H396.4"/><path d="M389.2 477.52 H396.4"/><path d="M389.2 478.88 H396.4"/><path d="M389.2 480.24 H396.4"/><path d="M389.2 481.60 H396.4"/><path d="M389.2 482.96 H396.4"/><path d="M389.2 484.32 H396.4"/><path d="M389.2 485.68 H396.4"/><path d="M389.2 487.04 H396.4"/><path d="M389.2 488.40 H396.4"/><path d="M389.2 489.76 H396.4"/><path d="M389.2 491.12 H396.4"/><path d="M389.2 492.48 H396.4"/><path d="M389.2 493.84 H396.4"/><path d="M389.2 495.20 H396.4"/><path d="M389.2 496.56 H396.4"/><path d="M389.2 497.92 H396.4"/><path d="M389.2 499.28 H396.4"/><path d="M389.2 500.64 H396.4"/><path d="M389.2 502.00 H396.4"/><path d="M389.2 503.36 H396.4"/><path d="M389.2 504.72 H396.4"/><path d="M389.2 506.08 H396.4"/><path d="M389.2 507.44 H396.4"/><path d="M396.9 451.3 V508 M403.7 437.3 V508 M402 437.3 V445.8 M409.8 478.3 V508 M403.7 445.7 L396.9 451.3 M403.7 471.6 L409.8 478.3"/><path d="M396.9 451.3 L403.7 458.4 M403.7 451.3 L396.9 458.4"/><path d="M396.9 458.4 L403.7 465.5 M403.7 458.4 L396.9 465.5"/><path d="M396.9 465.5 L403.7 472.6 M403.7 465.5 L396.9 472.6"/><path d="M396.9 472.6 L403.7 479.7 M403.7 472.6 L396.9 479.7"/><path d="M396.9 479.7 L403.7 486.8 M403.7 479.7 L396.9 486.8"/><path d="M396.9 486.8 L403.7 493.9 M403.7 486.8 L396.9 493.9"/><path d="M396.9 493.9 L403.7 501.0 M403.7 493.9 L396.9 501.0"/><path d="M396.9 501.0 L403.7 508.1 M403.7 501.0 L396.9 508.1"/><path d="M403.7 478.3 L409.8 485.7 M409.8 478.3 L403.7 485.7"/><path d="M403.7 485.7 L409.8 493.1 M409.8 485.7 L403.7 493.1"/><path d="M403.7 493.1 L409.8 500.5 M409.8 493.1 L403.7 500.5"/><path d="M403.7 500.5 L409.8 507.9 M409.8 500.5 L403.7 507.9"/></g>
<text class="tt t2" transform="scale(1.12,1)" x="384.82 427.32 461.70" y="106">Top</text>
<text class="tt" y="181.5"><tspan x="324.5" textLength="33.1" lengthAdjust="spacingAndGlyphs">1</tspan><tspan x="352.6" textLength="41.3" lengthAdjust="spacingAndGlyphs">%</tspan></text>
<text class="tt t3" transform="scale(1.03,1)" x="397.28 446.80 463.98 504.17" y="181.5">Club</text>
<text x="330.2" y="222.7" class="by" textLength="221.5" lengthAdjust="spacingAndGlyphs">BY COUNTRY</text>
<text x="331.3" y="250" class="sb" textLength="162.3" lengthAdjust="spacingAndGlyphs">Are you in the top 1%?</text>
<text x="331.3" y="267.2" class="bd" textLength="225.1" lengthAdjust="spacingAndGlyphs">Here's the net wealth needed to join in</text>
<text x="331.3" y="283.8" class="bd" textLength="237.6" lengthAdjust="spacingAndGlyphs">selected countries and territories in 2023.</text>
<text x="170.3" y="73" class="nt" textLength="157.5" lengthAdjust="spacingAndGlyphs">More than <tspan class="b">30%</tspan> of Monaco's</text>
<text x="170.3" y="88.2" class="nt" textLength="158.1" lengthAdjust="spacingAndGlyphs">estimated <tspan class="b">38,000 residents</tspan></text>
<text x="170.3" y="103.3" class="nt" textLength="92.3" lengthAdjust="spacingAndGlyphs">are millionaires.</text>
<text x="170.3" y="119.4" class="nt it" textLength="66.9" lengthAdjust="spacingAndGlyphs">Source: BBC</text>
<text x="182.3" y="323" class="nt" textLength="154.0" lengthAdjust="spacingAndGlyphs">Despite the U.S. having the</text>
<text x="182.3" y="339" class="nt b" textLength="179.1" lengthAdjust="spacingAndGlyphs">most ultra wealthy individuals,</text>
<text x="182.3" y="354.2" class="nt" textLength="138.6" lengthAdjust="spacingAndGlyphs">its high population base</text>
<text x="182.3" y="369.3" class="nt" textLength="110.9" lengthAdjust="spacingAndGlyphs">brings its 1% down.</text>
<text x="419.3" y="450.6" class="nt" textLength="128.1" lengthAdjust="spacingAndGlyphs">You need almost <tspan class="b">three</tspan></text>
<text x="419.3" y="466" class="nt" textLength="150.6" lengthAdjust="spacingAndGlyphs"><tspan class="b">times more</tspan> wealth to be in</text>
<text x="419.3" y="481.2" class="nt" textLength="141.6" lengthAdjust="spacingAndGlyphs">Hong Kong's 1% club than</text>
<text x="419.3" y="496.4" class="nt" textLength="144.2" lengthAdjust="spacingAndGlyphs">you do in Mainland China.</text>
<text x="380.7" y="784.3" class="src" textLength="174.1" lengthAdjust="spacingAndGlyphs">Source: Knight Frank Wealth Report 2024</text>
</svg>
</body></html>
